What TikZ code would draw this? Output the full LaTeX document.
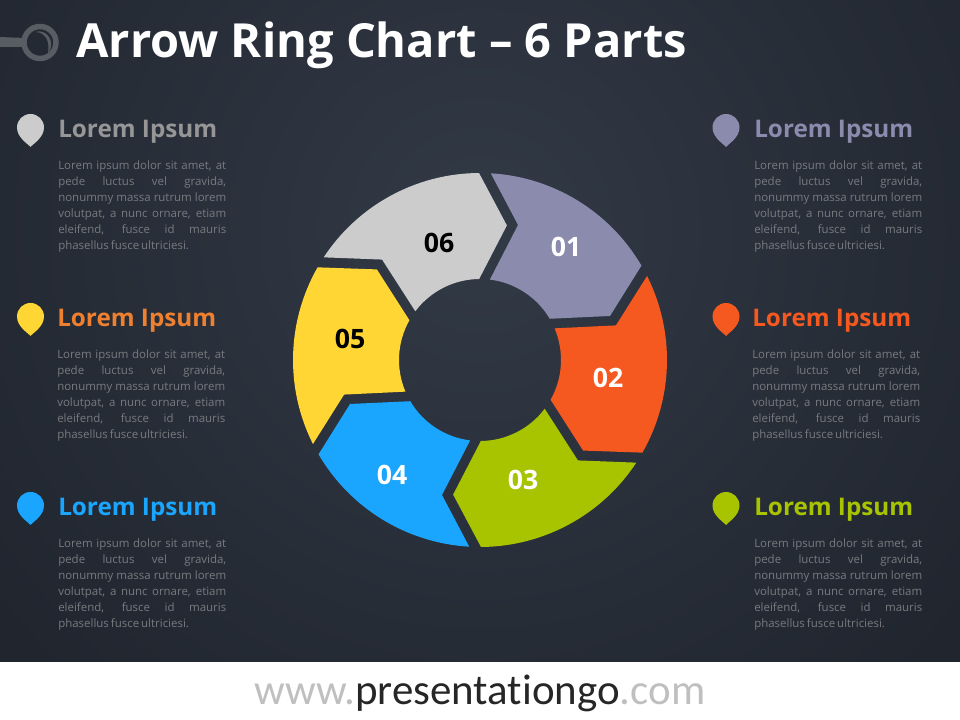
\documentclass[tikz,border=0pt]{standalone}
\usepackage{fontspec}
\setmainfont{Open Sans}
\newfontfamily\footfont[Ligatures=NoCommon]{Carlito}
\definecolor{bgdark}{HTML}{20252E}
\definecolor{bglight}{HTML}{323A46}
\definecolor{partA}{HTML}{8B8BAE}
\definecolor{partB}{HTML}{F5591F}
\definecolor{partC}{HTML}{A8C400}
\definecolor{partD}{HTML}{1AA6FF}
\definecolor{partE}{HTML}{FFD633}
\definecolor{partF}{HTML}{CCCCCC}
\definecolor{headF}{HTML}{969696}
\definecolor{headE}{HTML}{EE8030}
\definecolor{bodytext}{HTML}{777B80}
\definecolor{logogray}{HTML}{585C63}
\tikzset{
 heading/.style={anchor=west, inner sep=0pt, font=\fontsize{18.2}{22}\selectfont\bfseries},
 bodybox/.style={anchor=north west, inner sep=0pt, text width=126pt, align=justify,
  text=bodytext, font=\fontsize{8.6}{12}\selectfont},
 number/.style={font=\fontsize{20}{24}\selectfont\bfseries},
}
\newcommand{\loremtext}{\spaceskip=1.5pt plus 30pt\relax
 Lorem ipsum dolor sit amet, at\linebreak pede luctus vel gravida,\linebreak
 nonummy massa rutrum lorem\linebreak volutpat, a nunc ornare, etiam\linebreak
 eleifend, fusce id mauris\linebreak phasellus fusce ultriciesi.}

\begin{document}
\begin{tikzpicture}[x=.75pt, y=.75pt]
    \useasboundingbox (0, 0) rectangle (960, 720);

    % background and footer
    \fill[bgdark] (0, 58) rectangle (960, 720);
    \begin{scope}
        \clip (0, 58) rectangle (960, 720);
        \shade[inner color=bglight, outer color=bgdark] (480, 490) circle (620);
    \end{scope}
    \fill[white] (0, 0) rectangle (960, 58);

    \node[anchor=west, inner sep=0pt, text=white, font=\fontsize{35.25}{43}\selectfont\bfseries] (title) at (76, 675) {Arrow Ring Chart -- 6 Parts};

    % logo
    \draw[logogray, line width=4.1pt] (40, 677.5) circle (16);
    \fill[logogray] (0, 683) -- (24, 682) -- (24, 673) -- (0, 673) -- cycle;
    \fill[logogray] (35, 688) .. controls (48, 692) and (56, 676) .. (48, 667) .. controls (50, 678) and (46, 688) .. (35, 688);

    % ring
    \foreach \c[count=\i] in {partA, partB, partC, partD, partE, partF} {
        \begin{scope}[shift={(480, 360)}, rotate={-60*(\i-1)}]
            \fill[\c] (86.7:187) arc[start angle=86.7, end angle=30.3, radius=187] -- (130, 44) -- (30.6:81) arc[start angle=30.6, end angle=83, radius=81] -- (38, 135) -- cycle;
        \end{scope}
    }

    \node[number, text=white] (num1) at (566, 473) {01};
    \node[number, text=white] (num2) at (608, 342) {02};
    \node[number, text=white] (num3) at (523, 240) {03};
    \node[number, text=white] (num4) at (392, 245) {04};
    \node[number, text=black] (num5) at (350, 381) {05};
    \node[number, text=black] (num6) at (439, 477) {06};

    % side texts
    \foreach \c/\h/\px/\tx/\y[count=\i] in {
        partF/headF/30.5/58/592.5,
        partE/headE/30.5/57/403.5,
        partD/partD/30.5/58/214.5,
        partA/partA/726/754/592.5,
        partB/partB/726/752/403.5,
        partC/partC/726/754/214.5} {
        \fill[\c] (\px, \y-19.5) .. controls (\px-3, \y-16) and (\px-13.5, \y-10) .. (\px-13.5, \y) arc[start angle=180, end angle=0, radius=13.5] .. controls (\px+13.5, \y-10) and (\px+3, \y-16) .. (\px, \y-19.5) -- cycle;
        \node[heading, text=\h] (head\i) at (\tx, \y-4) {Lorem Ipsum};
        \node[bodybox] (body\i) at (\tx, \y-33.5) {\loremtext};
    }

    \node[inner sep=0pt, font=\footfont\fontsize{32.2}{38}\selectfont] (footer) at (480, 27) {\textcolor{black!25}{www.}\textcolor{black!85}{presentationgo}\textcolor{black!25}{.com}};
\end{tikzpicture}
\end{document}
